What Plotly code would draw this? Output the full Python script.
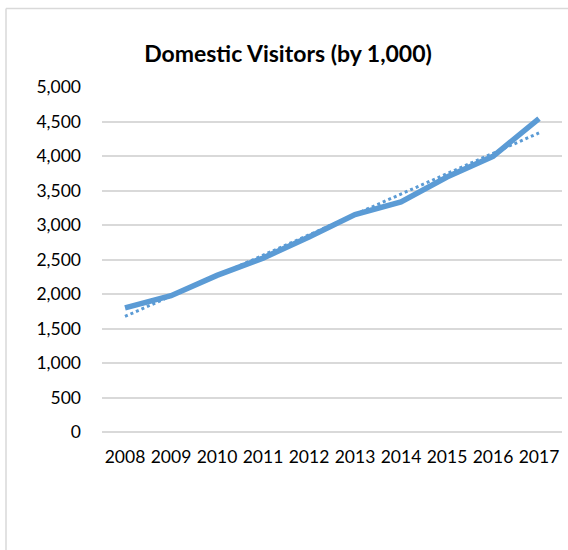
import plotly.graph_objects as go

years = ["2008", "2009", "2010", "2011", "2012", "2013", "2014", "2015", "2016", "2017"]
visitors = [1800, 1975, 2270, 2520, 2826, 3150, 3333, 3696, 3996, 4541]
trend_years = ["2008", "2017"]
trend_values = [1675, 4335]
y_ticks = [0, 500, 1000, 1500, 2000, 2500, 3000, 3500, 4000, 4500, 5000]

W, H = 568, 550
L, R, T, B = 102, 6, 87, 118
FONT = "Lato, 'Open Sans', sans-serif"
BLUE = "#5B9BD5"

fig = go.Figure()
fig.add_trace(go.Scatter(
    x=trend_years, y=trend_values, mode="lines",
    line=dict(color=BLUE, width=3, dash="dot"),
    showlegend=False, hoverinfo="skip"))
fig.add_trace(go.Scatter(
    x=years, y=visitors, mode="lines",
    line=dict(color=BLUE, width=5.5),
    showlegend=False))

fig.update_layout(
    width=W, height=H,
    margin=dict(l=L, r=R, t=T, b=B, pad=0),
    paper_bgcolor="white", plot_bgcolor="white",
    font=dict(family=FONT, size=17.5, color="#000000"),
    title=dict(text="<b>Domestic Visitors (by 1,000)</b>",
               x=288 / W, xanchor="center", y=1 - 54 / H, yanchor="middle",
               font=dict(family=FONT, size=23, color="#000000")),
    xaxis=dict(type="category", categoryorder="array", categoryarray=years,
               range=[-0.5, len(years) - 0.5],
               showgrid=False, showline=False, zeroline=False,
               ticks="", ticklabelstandoff=12,
               tickfont=dict(family=FONT, size=17.5)),
    yaxis=dict(range=[0, 5000], tickvals=y_ticks,
               ticktext=[f"{v:,}" for v in y_ticks],
               showgrid=True, gridcolor="#D9D9D9", gridwidth=1.5,
               zeroline=True, zerolinecolor="#D9D9D9", zerolinewidth=1.5,
               showline=False, ticks="", ticklabelstandoff=20,
               tickfont=dict(family=FONT, size=17.5)),
    shapes=[
        dict(type="line", xref="paper", yref="paper",
             x0=(6 - L) / (W - L - R), x1=(W + 5 - L) / (W - L - R),
             y0=(H - 8.5 - B) / (H - T - B), y1=(H - 8.5 - B) / (H - T - B),
             line=dict(color="#D9D9D9", width=1.5)),
        dict(type="line", xref="paper", yref="paper",
             x0=(6 - L) / (W - L - R), x1=(6 - L) / (W - L - R),
             y0=(H - 8.5 - B) / (H - T - B), y1=(-10 - B) / (H - T - B),
             line=dict(color="#D9D9D9", width=1.5)),
    ],
)

fig.write_html("out.html",
               config={"displayModeBar": False},
               post_script="document.body.style.margin='0';"
                           "document.body.style.overflow='hidden';")
